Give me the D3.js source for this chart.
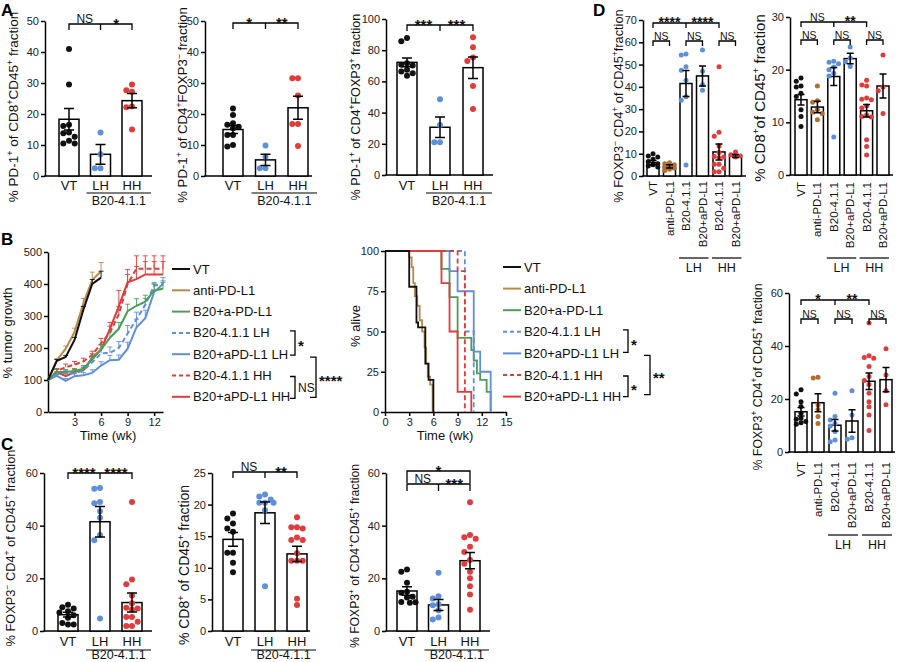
<!DOCTYPE html>
<html lang="en">
<head>
<meta charset="utf-8">
<title>B20-4.1.1 PD-1 figure</title>
<style>
  html, body { margin:0; padding:0; background:#fff; }
  svg { display:block; font-family:"Liberation Sans", Arial, Helvetica, sans-serif; }
  .axis path, .axis line { stroke:#000; stroke-width:1.5px; }
  .axis text { font-family:"Liberation Sans", Arial, sans-serif; font-size:11px; fill:#222; }
</style>
<script src="https://cdn.jsdelivr.net/npm/d3@7"></script>
</head>
<body>
<script>
// ---------- colours ----------
const cBlack = '#111111', cBrown = '#b98a4c', cBrownDot = '#b36d2e', cGreen = '#4b9e57', cBlue = '#5f8fd8', cRed = '#e03c3c';

// ---------- panels A and C (VT / LH / HH) ----------
const abcGroups = ['VT','LH','HH'];
const abcColors = [cBlack, cBlue, cRed];

const a1Mean = [18.3, 7.0, 24.3];
const a1Sem  = [3.5, 3.2, 2.3];
const a1Pts  = [[41,29.5,16.5,16.1,14,13.8,12.7,11.4,10.5,10.5],[14,7,2.5,2.5],[29.5,27.7,27.2,22.4,22.2,15]];

const a2Mean = [15.0, 5.2, 22.0];
const a2Sem  = [1.3, 1.8, 3.7];
const a2Pts  = [[21.8,19.7,17,16.5,15.9,15.4,13.2,13.2,10,9.5],[9.8,6.2,2.5,2.5],[31.5,31.5,26,16.8,16.8,9.7]];

const a3Mean = [72.2, 30.6, 68.8];
const a3Sem  = [2.8, 6.6, 6.9];
const a3Pts  = [[87.8,85.7,71.7,70.7,70.2,67.5,66.4,65.3,63.6],[48.6,32,21,21],[88.3,81.9,75.4,73,57,42.3]];

const c1Mean = [6.2, 41.5, 10.8];
const c1Sem  = [0.9, 5.8, 3.6];
const c1Pts  = [[10,9,8.5,7.5,7,6,5,3,2.5,2.5],[54.3,54,49,48.5,45.5,43,36.5,34.5,4.7],[49,19.6,17.8,13.5,10.5,8.8,8.5,8.2,5.3,5.3,3.5,1.9,1.9]];

const c2Mean = [14.5, 18.7, 12.2];
const c2Sem  = [1.1, 1.7, 1.2];
const c2Pts  = [[18.6,17.8,17,16.2,15.7,12.4,12.4,10.8,9.3],[21.6,21.3,20.8,20.3,20.3,20.3,19.1,7.1],[18,16.4,16.4,16.2,14.8,14.4,14.4,12.3,11.1,11.1,11.1,5.1,4.1]];

const c3Mean = [15.2, 9.9, 26.7];
const c3Sem  = [1.6, 2.1, 3.1];
const c3Pts  = [[23.4,22.5,18.3,14.9,14.5,13,12.7,11,10.9,10.7],[22.1,13.2,12.3,10.2,9.8,7.9,5.1,4.4],[48.9,36.5,35.6,35,32,30,27,25.5,22.5,20,17,13.9,8.1]];

// ---------- panel D (six groups) ----------
const dGroups = ['VT','anti-PD-L1','B20-4.1.1','B20+aPD-L1','B20-4.1.1','B20+aPD-L1'];
const dColors = [cBlack, cBrownDot, cBlue, cBlue, cRed, cRed];

const d1Mean = [6.0, 4.3, 41.5, 44.9, 10.8, 9.0];
const d1Sem  = [1.0, 0.7, 5.8, 4.5, 3.6, 0.7];
const d1Pts  = [[10,9,8.5,7.5,6.5,5.5,5,4.5,4],[6,5.5,5,4.5,4,3.5,3,2.5],[54.7,54.3,49,47.5,43,35.6,34,4.9],[56.5,47,41,38.5],[49,19.6,17.8,13.5,10.5,8.8,8.5,8.2,5.3,5.3,3.5,1.9,1.9],[10.8,9.5,9,8.5]];

const d2Mean = [14.3, 12.9, 18.7, 22.1, 12.2, 16.9];
const d2Sem  = [1.0, 1.1, 1.7, 1.0, 1.2, 2.3];
const d2Pts  = [[18.4,17.8,16.9,16.7,15.5,14.9,12.4,11.1,9.2],[16.9,14.1,13.8,12.4,11.9,11.7,10.5],[21.6,21.4,21.1,20.5,20,19.3,18.8,7.2],[24.3,22.2,21.5,20.6],[18,17.1,16.9,14.6,14.4,14.3,13.1,12.7,11.4,11.1,11,6.7,5.4,3.8],[22.8,16.7,16,11.7]];

const d3Mean = [15.2, 18.6, 10.1, 11.7, 26.7, 27.3];
const d3Sem  = [1.6, 3.4, 2.2, 4.2, 3.1, 4.6];
const d3Pts  = [[23.5,21.9,19,17.2,14.6,12.7,12.4,11.5,11,10.5],[28.2,27.9,17.8,16,13.4,10.8],[22.2,13.4,12.1,10.8,9.8,7.7,4.5,3.9],[23.1,14,5.4,4.8],[48.7,36.3,35.7,35.4,32.3,28.5,27,25.5,22.2,19,17.1,14,8.1],[39,29.1,23.1,17.8]];

// ---------- panel B: tumour growth ----------
const growthWeeks = [0,1,2,3,4,5,6,7,8,9,10,11,12,13];
const growthTicksY = [0,100,200,300,400,500];
const growthTicksX = [3,6,9,12];
const vtGrowth      = [100,160,172,225,320,400,420];
const vtGrowthSem   = [0,4,5,8,10,14,20];
const antiGrowth    = [100,162,198,250,340,412,440];
const antiGrowthSem = [0,5,8,12,15,25,27];
const comboGrowth    = [100,125,125,128,135,165,195,232,260,315,332,345,380,385];
const comboGrowthSem = [0,8,8,8,10,12,15,18,20,22,22,20,20,20];
const lhGrowth       = [100,118,122,120,130,155,183,185,200,245,290,335,395,400];
const lhGrowthSem    = [0,8,8,8,10,12,15,18,20,25,22,20,10,10];
const lhComboGrowth    = [100,113,97,112,115,122,145,162,163,198,265,293,375,400];
const lhComboGrowthSem = [0,8,8,8,8,10,12,15,15,20,25,25,25,20];
const hhGrowth       = [100,128,140,148,158,178,215,248,305,400,448,448,448,448];
const hhGrowthSem    = [0,8,10,10,10,12,15,20,25,30,40,40,40,40];
const hhComboGrowth    = [100,125,112,125,130,170,195,260,330,405,415,430,430,430];
const hhComboGrowthSem = [0,8,8,8,10,12,15,20,50,40,40,40,40,40];

// ---------- panel B: survival ----------
const survTicksX = [0,3,6,9,12,15];
const survTicksY = [0,25,50,75,100];
const vtSurvT = [0,3,3.9,4.1,5,5.4,6];
const vtSurvS = [100,77.8,55.6,52.6,30,20,0];
const antiSurvT = [0,3,3.3,3.5,3.7,4,4.3,4.6,4.9,5.1,5.3,5.6,5.9];
const antiSurvS = [100,96,90,80,72,66,57,50,40,30,22,17,0];
const comboSurvT = [0,7,8,9,10.7,11,11.4,11.8,12.6,13.1];
const comboSurvS = [100,88.9,71.4,46,38.5,32,24,20,12.5,0];
const lhSurvT = [0,9.9,11];
const lhSurvS = [100,50,0];
const lhComboSurvT = [0,8,9,11,11.8,13.1];
const lhComboSurvS = [100,87.5,75,37.5,25,0];
const hhSurvT = [0,9,9.9];
const hhSurvS = [100,87.5,0];
const hhComboSurvT = [0,7,8,9,10.7];
const hhComboSurvS = [100,80,50,12.5,0];

const seriesNames  = ['VT','anti-PD-L1','B20+a-PD-L1','B20-4.1.1 LH','B20+aPD-L1 LH','B20-4.1.1 HH','B20+aPD-L1 HH'];
const seriesColors = [cBlack, cBrown, cGreen, cBlue, cBlue, cRed, cRed];
const seriesDashed = [false, false, false, true, false, true, false];

// ---------- helpers ----------
const svg = d3.select('body').append('svg').attr('width',900).attr('height',662).attr('viewBox',[0,0,900,662]);

function addRich(t, str, fs) {
  const parts = str.split(/(\^[+\-])/).filter(p => p !== '');
  let raised = false;
  parts.forEach(p => {
    if (p[0] === '^') {
      t.append('tspan').attr('dy', raised ? 0 : -fs*0.38).attr('font-size', fs*0.66).text(p[1] === '-' ? '\u2212' : '+');
      raised = true;
    } else {
      t.append('tspan').attr('dy', raised ? fs*0.38 : 0).text(p);
      raised = false;
    }
  });
}

function vTitle(g, x, y, str, fs) {
  const t = g.append('text').attr('transform',`translate(${x},${y}) rotate(-90)`)
    .attr('text-anchor','middle').attr('font-size',fs).attr('fill','#111');
  addRich(t, str, fs);
}

function sigText(g, x, yLine, t, starFs, nsFs, anchor) {
  const star = /^\*+$/.test(t);
  g.append('text').attr('x',x).attr('y', star ? yLine - 3.8 + 0.56*starFs : yLine - 1.5)
    .attr('text-anchor',anchor || 'middle').attr('font-size', star ? starFs : nsFs)
    .attr('font-weight', star ? 'bold' : 'normal').attr('fill','#111').text(t);
}

function swarm(vals, y, r, half) {
  const placed = [];
  const step = r * 1.9;
  const cands = [0,-step,step,-2*step,2*step,-step/2,step/2,-1.5*step,1.5*step].filter(c => Math.abs(c) <= half);
  vals.slice().sort((a,b) => b-a).forEach(v => {
    const cy = y(v);
    let best = 0, bestD = -1;
    for (const c of cands) {
      let md = Infinity;
      placed.forEach(p => { md = Math.min(md, Math.hypot(p.dx - c, p.cy - cy)); });
      if (md >= 2*r*0.95) { best = c; break; }
      if (md > bestD) { bestD = md; best = c; }
    }
    placed.push({v: v, dx: best, cy: cy});
  });
  return placed;
}

function barPanel(cfg) {
  const g = svg.append('g');
  const n = cfg.mean.length;
  const x = d3.scalePoint().domain(d3.range(n)).range([cfg.c0, cfg.c0 + (n-1)*cfg.dx]);
  const y = d3.scaleLinear().domain([0, cfg.max]).range([cfg.yBot, cfg.yTop]);

  g.append('g').attr('class','axis').attr('transform',`translate(${cfg.x0},0)`)
    .call(d3.axisLeft(y).tickValues(cfg.ticks).tickSize(4).tickSizeOuter(0).tickPadding(2));
  g.append('line').attr('x1',cfg.x0-0.75).attr('x2',cfg.xEnd).attr('y1',cfg.yBot).attr('y2',cfg.yBot)
    .attr('stroke','#000').attr('stroke-width',1.5);

  g.append('g').selectAll('rect').data(cfg.mean).join('rect')
    .attr('x',(d,i) => x(i) - cfg.bw/2).attr('y',d => y(d))
    .attr('width',cfg.bw).attr('height',d => y(0) - y(d))
    .attr('fill','#fff').attr('stroke','#000').attr('stroke-width',1.5);

  cfg.pts.forEach((arr,i) => {
    const pos = swarm(arr, y, cfg.r, cfg.bw/2 + 1);
    g.append('g').selectAll('circle').data(pos).join('circle')
      .attr('cx',p => x(i) + p.dx).attr('cy',p => p.cy).attr('r',cfg.r).attr('fill',cfg.colors[i]);
  });

  g.append('g').selectAll('path').data(cfg.mean).join('path')
    .attr('d',(d,i) => {
      const hi = y(d + cfg.sem[i]), lo = y(Math.max(0, d - cfg.sem[i])), c = x(i), w = cfg.cap/2;
      return `M${c},${hi}V${lo}M${c-w},${hi}H${c+w}M${c-w},${lo}H${c+w}`;
    })
    .attr('fill','none').attr('stroke','#000').attr('stroke-width',1.5);

  cfg.brackets.forEach(b => {
    const xs = b.at.map(i => x(i));
    const tick = b.tick || 6;
    let d = `M${xs[0]},${b.y+tick}V${b.y}H${xs[xs.length-1]}V${b.y+tick}`;
    xs.slice(1,-1).forEach(xx => { d += `M${xx},${b.y}V${b.y+tick}`; });
    g.append('path').attr('d',d).attr('fill','none').attr('stroke','#000').attr('stroke-width',1.3);
    b.texts.forEach((t,k) => sigText(g, (xs[k] + xs[k+1]) / 2, b.y, t, cfg.starFs, cfg.nsFs));
  });

  if (!cfg.rotated) {
    g.append('g').selectAll('text').data(cfg.cats).join('text')
      .attr('x',(d,i) => x(i)).attr('y',cfg.labelY).attr('text-anchor','middle')
      .attr('font-size',13).attr('fill','#111').text(d => d);
    const gx0 = x(1) - 14, gx1 = x(2) + 19;
    g.append('line').attr('x1',gx0).attr('x2',gx1).attr('y1',cfg.groupLineY).attr('y2',cfg.groupLineY)
      .attr('stroke','#000').attr('stroke-width',1.2);
    g.append('text').attr('x',(gx0+gx1)/2).attr('y',cfg.groupTextY).attr('text-anchor','middle')
      .attr('font-size',12.5).attr('fill','#111').text('B20-4.1.1');
  } else {
    g.append('g').selectAll('text').data(cfg.cats).join('text')
      .attr('transform',(d,i) => `translate(${x(i)+4},${cfg.rotY}) rotate(-90)`)
      .attr('text-anchor','end').attr('font-size',11.5).attr('fill','#111').text(d => d);
    cfg.subsets.forEach(s => {
      const gx0 = x(s.from) - 7, gx1 = x(s.to) + 6;
      g.append('line').attr('x1',gx0).attr('x2',gx1).attr('y1',cfg.groupLineY).attr('y2',cfg.groupLineY)
        .attr('stroke','#000').attr('stroke-width',1.2);
      g.append('text').attr('x',(gx0+gx1)/2).attr('y',cfg.groupTextY).attr('text-anchor','middle')
        .attr('font-size',12.5).attr('fill','#111').text(s.label);
    });
  }
  vTitle(g, cfg.titleX, cfg.titleY, cfg.title, cfg.titleFs);
}

// ---------- panel letters ----------
[['A',1,15.5],['B',1,245],['C',1,450],['D',593,16]].forEach(p => {
  svg.append('text').attr('x',p[1]).attr('y',p[2]).attr('font-size',17).attr('font-weight','bold').text(p[0]);
});

// ---------- A ----------
const abcBase = {cats: abcGroups, colors: abcColors, bw: 20, r: 3, cap: 10, starFs: 15, nsFs: 12, rotated: false};
barPanel(Object.assign({}, abcBase, {mean:a1Mean, sem:a1Sem, pts:a1Pts, x0:45, xEnd:152, yTop:21, yBot:176, max:50,
  ticks:[0,10,20,30,40,50], c0:69, dx:31.5, labelY:189.5, groupLineY:193, groupTextY:205,
  brackets:[{y:24, at:[0,1,2], texts:['NS','*']}],
  title:'% PD-1^+ of CD8^+CD45^+ fraction', titleX:18, titleY:107, titleFs:13.5}));
barPanel(Object.assign({}, abcBase, {mean:a2Mean, sem:a2Sem, pts:a2Pts, x0:205, xEnd:312, yTop:21, yBot:176, max:50,
  ticks:[0,10,20,30,40,50], c0:233, dx:32.5, labelY:189.5, groupLineY:193, groupTextY:205,
  brackets:[{y:23, at:[0,1,2], texts:['*','**']}],
  title:'% PD-1^+ of CD4^+FOXP3^- fraction', titleX:187, titleY:105, titleFs:13.2}));
barPanel(Object.assign({}, abcBase, {mean:a3Mean, sem:a3Sem, pts:a3Pts, x0:386, xEnd:493, yTop:19, yBot:175, max:100,
  ticks:[0,20,40,60,80,100], c0:407, dx:33, labelY:189.5, groupLineY:193, groupTextY:205,
  brackets:[{y:25, at:[0,1,2], texts:['***','***']}],
  title:'% PD-1^+ of CD4^+FOXP3^+ fraction', titleX:360, titleY:107, titleFs:12.6}));

// ---------- C ----------
barPanel(Object.assign({}, abcBase, {mean:c1Mean, sem:c1Sem, pts:c1Pts, x0:44, xEnd:152, yTop:473, yBot:631, max:60,
  ticks:[0,20,40,60], c0:68, dx:32, labelY:646, groupLineY:650, groupTextY:659,
  brackets:[{y:473, at:[0,1,2], texts:['****','****']}],
  title:'% FOXP3^- CD4^+ of CD45^+ fraction', titleX:15, titleY:548, titleFs:12.8}));
barPanel(Object.assign({}, abcBase, {mean:c2Mean, sem:c2Sem, pts:c2Pts, x0:212, xEnd:310, yTop:473, yBot:631, max:25,
  ticks:[0,5,10,15,20,25], c0:233, dx:32, labelY:646, groupLineY:650, groupTextY:659,
  brackets:[{y:472, at:[0,1,2], texts:['NS','**']}],
  title:'% CD8^+ of CD45^+ fraction', titleX:189, titleY:565, titleFs:14}));
barPanel(Object.assign({}, abcBase, {mean:c3Mean, sem:c3Sem, pts:c3Pts, x0:386, xEnd:490, yTop:473, yBot:631, max:60,
  ticks:[0,20,40,60], c0:407, dx:31.5, labelY:646, groupLineY:650, groupTextY:659,
  brackets:[{y:471, at:[0,2], texts:['*'], tick:12}, {y:484, at:[0,1,2], texts:['NS','***'], tick:7}],
  title:'% FOXP3^+ of CD4^+CD45^+ fraction', titleX:359, titleY:556, titleFs:12.2}));

// ---------- D ----------
const dBase = {cats: dGroups, colors: dColors, bw: 12, r: 2.5, cap: 7, starFs: 14, nsFs: 10.5, rotated: true,
  subsets: [{label:'LH', from:2, to:3}, {label:'HH', from:4, to:5}]};
barPanel(Object.assign({}, dBase, {mean:d1Mean, sem:d1Sem, pts:d1Pts, x0:643, xEnd:746, yTop:20, yBot:176, max:70,
  ticks:[0,10,20,30,40,50,60,70], c0:653, dx:16.5, rotY:181, groupLineY:258, groupTextY:272,
  brackets:[{y:23, at:[0,2,4], texts:['****','****'], tick:5},
            {y:41, at:[0,1], texts:['NS'], tick:5}, {y:41, at:[2,3], texts:['NS'], tick:5}, {y:41, at:[4,5], texts:['NS'], tick:5}],
  title:'% FOXP3^- CD4^+ of CD45^+fraction', titleX:623, titleY:106, titleFs:12.8}));
barPanel(Object.assign({}, dBase, {mean:d2Mean, sem:d2Sem, pts:d2Pts, x0:790, xEnd:893, yTop:17, yBot:175, max:30,
  ticks:[0,10,20,30], c0:801, dx:16.4, rotY:182, groupLineY:258, groupTextY:272,
  brackets:[{y:22, at:[0,2,4], texts:['NS','**'], tick:5},
            {y:40, at:[0,1], texts:['NS'], tick:5}, {y:40, at:[2,3], texts:['NS'], tick:5}, {y:40, at:[4,5], texts:['NS'], tick:5}],
  title:'% CD8^+of CD45^+ fraction', titleX:765, titleY:98, titleFs:15}));
barPanel(Object.assign({}, dBase, {mean:d3Mean, sem:d3Sem, pts:d3Pts, x0:789, xEnd:895, yTop:293, yBot:452, max:60,
  ticks:[0,20,40,60], c0:801, dx:17, rotY:462, groupLineY:535, groupTextY:549,
  brackets:[{y:300, at:[0,2,4], texts:['*','**'], tick:5},
            {y:319, at:[0,1], texts:['NS'], tick:5}, {y:319, at:[2,3], texts:['NS'], tick:5}, {y:319, at:[4,5], texts:['NS'], tick:5}],
  title:'% FOXP3^+ CD4^+of CD45^+ fraction', titleX:762, titleY:377, titleFs:12.4}));

// ---------- B: legend + side brackets ----------
function legend(x0, y0, dy, names) {
  const g = svg.append('g');
  names.forEach((name,i) => {
    const yy = y0 + i*dy;
    g.append('line').attr('x1',x0).attr('x2',x0+18).attr('y1',yy).attr('y2',yy)
      .attr('stroke',seriesColors[i]).attr('stroke-width',2)
      .attr('stroke-dasharray',seriesDashed[i] ? '4,3' : null);
    g.append('text').attr('x',x0+21).attr('y',yy+4.5).attr('font-size',13).attr('fill','#111').text(name);
  });
  return i => y0 + i*dy;
}
function sideBracket(x, yA, yB, arm, label) {
  svg.append('path').attr('d',`M${x-arm},${yA}H${x}V${yB}H${x-arm}`)
    .attr('fill','none').attr('stroke','#000').attr('stroke-width',1.3);
  const star = /^\*+$/.test(label);
  const mid = (yA + yB) / 2;
  svg.append('text').attr('x',x+3).attr('y', star ? mid + 0.56*15 : mid + 0.36*12)
    .attr('font-size', star ? 15 : 12).attr('font-weight', star ? 'bold' : 'normal').attr('fill','#111').text(label);
}

// ---------- B1: tumour growth ----------
(function() {
  const g = svg.append('g');
  const gx = d3.scaleLinear().domain([0,13]).range([48,163]);
  const gy = d3.scaleLinear().domain([0,500]).range([412,252]);
  g.append('g').attr('class','axis').attr('transform','translate(48,0)')
    .call(d3.axisLeft(gy).tickValues(growthTicksY).tickSize(4).tickSizeOuter(0).tickPadding(2));
  g.append('g').attr('class','axis').attr('transform','translate(0,412)')
    .call(d3.axisBottom(gx).tickValues(growthTicksX).tickSize(4).tickSizeOuter(0).tickPadding(2));
  const series = [vtGrowth, antiGrowth, comboGrowth, lhGrowth, lhComboGrowth, hhGrowth, hhComboGrowth];
  const sems = [vtGrowthSem, antiGrowthSem, comboGrowthSem, lhGrowthSem, lhComboGrowthSem, hhGrowthSem, hhComboGrowthSem];
  const line = d3.line().x((d,i) => gx(growthWeeks[i])).y(d => gy(d));
  for (let s = series.length - 1; s >= 0; s--) {
    g.append('path').attr('d', series[s].map((v,i) => {
        if (!sems[s][i]) return '';
        const xx = gx(growthWeeks[i]), top = gy(v + sems[s][i]);
        return `M${xx},${gy(v)}V${top}M${xx-2.5},${top}H${xx+2.5}`;
      }).join(''))
      .attr('fill','none').attr('stroke',seriesColors[s]).attr('stroke-width',1).attr('opacity',0.9);
    g.append('path').attr('d', line(series[s])).attr('fill','none')
      .attr('stroke',seriesColors[s]).attr('stroke-width',2)
      .attr('stroke-dasharray', seriesDashed[s] ? '5,3' : null);
  }
  vTitle(g, 12, 333, '% tumor growth', 13);
  g.append('text').attr('x',108).attr('y',440).attr('text-anchor','middle').attr('font-size',13).attr('fill','#111').text('Time (wk)');
  const row = legend(172, 269, 21.3, seriesNames);
  sideBracket(295, row(3)-2, row(4)+1, 5, '*');
  sideBracket(295, row(5)+1, row(6)+1.5, 5, 'NS');
  sideBracket(316, row(4)+3, row(6)+0.5, 6, '****');
})();

// ---------- B2: survival ----------
(function() {
  const g = svg.append('g');
  const sx = d3.scaleLinear().domain([0,15]).range([385,506]);
  const sy = d3.scaleLinear().domain([0,100]).range([412,251]);
  g.append('g').attr('class','axis').attr('transform','translate(385,0)')
    .call(d3.axisLeft(sy).tickValues(survTicksY).tickSize(4).tickSizeOuter(0).tickPadding(2));
  g.append('g').attr('class','axis').attr('transform','translate(0,412)')
    .call(d3.axisBottom(sx).tickValues(survTicksX).tickSize(4).tickSizeOuter(0).tickPadding(2));
  const ts = [vtSurvT, antiSurvT, comboSurvT, lhSurvT, lhComboSurvT, hhSurvT, hhComboSurvT];
  const ss = [vtSurvS, antiSurvS, comboSurvS, lhSurvS, lhComboSurvS, hhSurvS, hhComboSurvS];
  const step = d3.line().x(d => sx(d[0])).y(d => sy(d[1])).curve(d3.curveStepAfter);
  const order = [2, 4, 3, 6, 5, 1, 0];
  order.forEach(s => {
    g.append('path').attr('d', step(ts[s].map((t,i) => [t, ss[s][i]]))).attr('fill','none')
      .attr('stroke',seriesColors[s]).attr('stroke-width',1.8)
      .attr('stroke-dasharray', seriesDashed[s] ? '5,3' : null);
  });
  vTitle(g, 360, 326, '% alive', 13);
  g.append('text').attr('x',445).attr('y',440).attr('text-anchor','middle').attr('font-size',13).attr('fill','#111').text('Time (wk)');
  const row = legend(503, 267, 21.6, seriesNames);
  sideBracket(628, row(3)-2, row(4)-1, 5, '*');
  sideBracket(628, row(5)+1, row(6), 5, '*');
  sideBracket(650, row(4)+2, row(6)-2, 6, '**');
})();
</script>
</body>
</html>
